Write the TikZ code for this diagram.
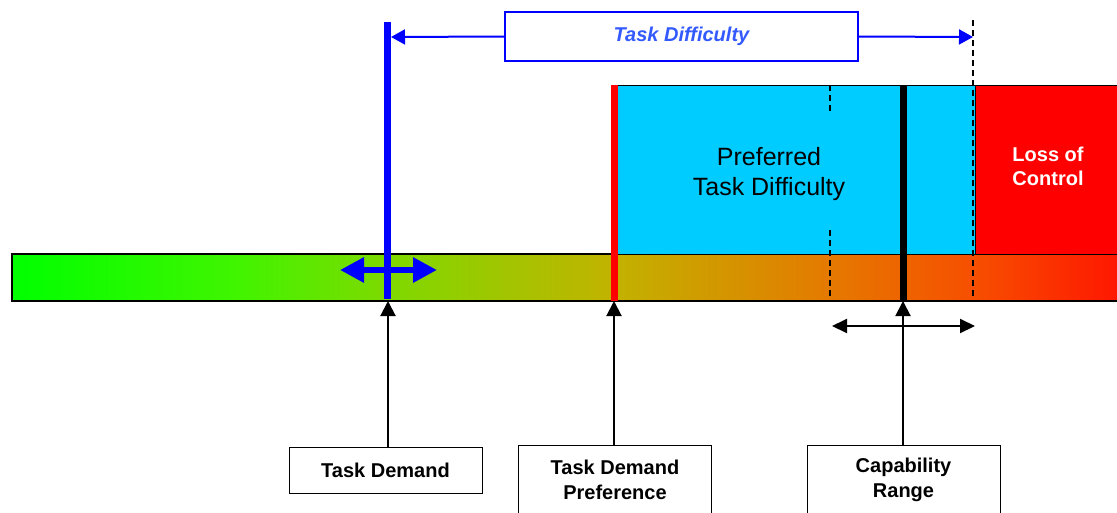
\documentclass[tikz,border=0pt]{standalone}
\usepackage{fontspec}
\setmainfont{Liberation Sans}
\usetikzlibrary{arrows.meta}
\pgfdeclarehorizontalshading{bargrad}{100bp}{rgb(0bp)=(0,1,0); rgb(25bp)=(0,1,0); rgb(35bp)=(0.25,0.96,0); rgb(42bp)=(0.5,0.85,0); rgb(52bp)=(0.76,0.7,0); rgb(62bp)=(0.9,0.47,0); rgb(68.5bp)=(0.97,0.3,0); rgb(75bp)=(1,0.08,0); rgb(100bp)=(1,0.08,0)}
\definecolor{skyc}{RGB}{0,204,255}
\definecolor{txtblue}{RGB}{51,90,255}
\begin{document}
\begin{tikzpicture}[x=1pt,y=-1pt,
  lbl/.style={draw=black,line width=1pt,fill=white,inner sep=0pt,align=center,
    minimum width=193pt,font=\fontsize{20}{25}\selectfont\bfseries},
  blkarrow/.style={draw=black,line width=2pt,-{Triangle[length=15pt,width=15pt]}},
  dashline/.style={draw=black,line width=1.5pt,dash pattern=on 6pt off 4pt}]
\useasboundingbox (0,0) rectangle (1117,512);
% bar
\path[shading=bargrad,draw=black,line width=1.5pt] (12,254) rectangle (1125,301);
% preferred and loss of control regions
\path[fill=skyc,draw=black,line width=1pt] (612,85) rectangle (975,254);
\path[fill=red,draw=black,line width=1pt] (975,85) rectangle (1125,254);
\node[font=\fontsize{25}{30}\selectfont,align=center] (pref) at (769,174) {Preferred\\Task Difficulty};
\node[font=\fontsize{20}{24}\selectfont\bfseries,text=white,align=center] (loss) at (1048,166) {Loss of\\Control};
% vertical markers
\coordinate (tdp) at (614,301);
\coordinate (cap) at (903,301);
\coordinate (tdm) at (388,301);
\draw[red,line width=7pt] (614,85) -- (tdp);
\draw[dashline] (830,85) -- (830,114);
\draw[dashline] (830,230) -- (830,301);
\draw[dashline] (973,20) -- (973,301);
\draw[black,line width=7pt] (903,85) -- (cap);
\draw[blue,line width=7pt] (387,22) -- (387,299);
\draw[blue,line width=6pt,{Triangle[length=24pt,width=24pt]}-{Triangle[length=24pt,width=24pt]}] (340,270) -- (437,270);
% task difficulty
\coordinate (tdl) at (391,37);
\coordinate (tdr) at (973,37);
\node[draw=blue,line width=2pt,fill=white,minimum width=353pt,minimum height=49pt,inner sep=0pt,
  text=txtblue,font=\fontsize{20}{24}\selectfont\bfseries\itshape] (tdbox) at (681.5,36.5) {Task Difficulty};
\draw[blue,line width=2pt,-{Triangle[length=14pt,width=15pt]}] (tdbox.west) -- (tdl);
\draw[blue,line width=2pt,-{Triangle[length=14pt,width=15pt]}] (tdbox.east) -- (tdr);
% capability range
\coordinate (crl) at (832,326);
\coordinate (crr) at (975,326);
\draw[black,line width=2pt,{Triangle[length=15pt,width=14pt]}-{Triangle[length=15pt,width=14pt]}] (crl) -- (crr);
% label boxes
\node[lbl,minimum height=46pt] (tdemand) at (385.5,470) {Task Demand};
\node[lbl,minimum height=70pt] (tdpref) at (615,480) {Task Demand\\Preference};
\node[lbl,minimum height=70pt] (capr) at (903.5,480) {Capability\\Range};
\draw[blkarrow] (tdm |- tdemand.north) -- (tdm);
\draw[blkarrow] (tdp |- tdpref.north) -- (tdp);
\draw[blkarrow] (cap |- capr.north) -- (cap);
\end{tikzpicture}
\end{document}
